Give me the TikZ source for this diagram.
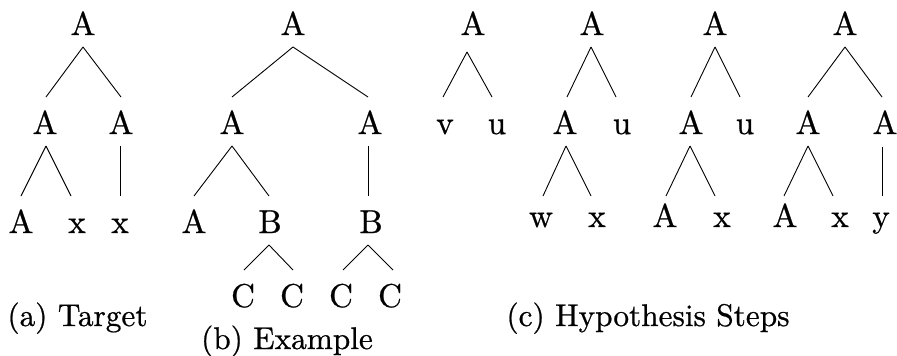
\documentclass[tikz,border=0pt]{standalone}
\usepackage{fontspec}
\newfontfamily\treefont{lmroman10-regular.otf}[FakeBold=0.7]
\begin{document}
\begin{tikzpicture}[x=1pt,y=-1pt,
  lab/.style={anchor=base,inner sep=0pt,font=\treefont\fontsize{33}{38}\selectfont},
  captext/.style={anchor=base,inner sep=0pt,font=\treefont\fontsize{31.3}{38}\selectfont},
  treeline/.style={line width=0.9pt}]
\useasboundingbox (0,0) rectangle (897,356);
% (a) Target
\node[lab] (a0) at (83,35) {A};
\node[lab] (a1) at (45,134) {A};
\node[lab] (a2) at (121,134) {A};
\node[lab] (a3) at (21,233) {A};
\node[lab] (a4) at (77,233) {x};
\node[lab] (a5) at (120,233) {x};
\draw[treeline] ([yshift=-12pt]a0.base) -- ([xshift=1pt,yshift=37pt]a1.base);
\draw[treeline] ([yshift=-12pt]a0.base) -- ([yshift=37pt]a2.base);
\draw[treeline] ([xshift=1pt,yshift=-12pt]a1.base) -- ([yshift=37pt]a3.base);
\draw[treeline] ([xshift=1pt,yshift=-12pt]a1.base) -- ([xshift=-6pt,yshift=37pt]a4.base);
\draw[treeline] ([xshift=-1pt,yshift=-12pt]a2.base) -- ([yshift=37pt]a5.base);
\node[captext] (la) at (77.5,326) {(a) Target};
% (b) Example
\node[lab] (b0) at (293,35) {A};
\node[lab] (b1) at (232,134) {A};
\node[lab] (b2) at (370,134) {A};
\node[lab] (b3) at (194,233) {A};
\node[lab] (b4) at (270,233) {B};
\node[lab] (b5) at (371,233) {B};
\node[lab] (b6) at (243,307) {C};
\node[lab] (b7) at (292,307) {C};
\node[lab] (b8) at (341,307) {C};
\node[lab] (b9) at (390,307) {C};
\draw[treeline] ([yshift=-12pt]b0.base) -- ([yshift=37pt]b1.base);
\draw[treeline] ([yshift=-12pt]b0.base) -- ([xshift=-2pt,yshift=37pt]b2.base);
\draw[treeline] ([yshift=-12pt]b1.base) -- ([yshift=37pt]b3.base);
\draw[treeline] ([yshift=-12pt]b1.base) -- ([xshift=-1pt,yshift=37pt]b4.base);
\draw[treeline] ([xshift=-2pt,yshift=-12pt]b2.base) -- ([xshift=-3pt,yshift=37pt]b5.base);
\draw[treeline] ([xshift=-1pt,yshift=-12pt]b4.base) -- ([xshift=1pt,yshift=37pt]b6.base);
\draw[treeline] ([xshift=-1pt,yshift=-12pt]b4.base) -- ([xshift=1pt,yshift=37pt]b7.base);
\draw[treeline] ([xshift=-3pt,yshift=-12pt]b5.base) -- ([xshift=2pt,yshift=37pt]b8.base);
\draw[treeline] ([xshift=-3pt,yshift=-12pt]b5.base) -- ([xshift=3pt,yshift=37pt]b9.base);
\node[captext] (lb) at (287,349) {(b) Example};
% (c) step 1
\node[lab] (c10) at (473,35) {A};
\node[lab] (c11) at (445,134) {v};
\node[lab] (c12) at (497,134) {u};
\draw[treeline] ([xshift=-6pt,yshift=-17pt]c10.base) -- ([xshift=-2pt,yshift=37pt]c11.base);
\draw[treeline] ([xshift=-6pt,yshift=-17pt]c10.base) -- ([xshift=-5pt,yshift=37pt]c12.base);
% (c) step 2
\node[lab] (c20) at (592,35) {A};
\node[lab] (c21) at (565,134) {A};
\node[lab] (c22) at (622,134) {u};
\node[lab] (c23) at (541,227) {w};
\node[lab] (c24) at (597,227) {x};
\draw[treeline] ([xshift=-1pt,yshift=-12pt]c20.base) -- ([xshift=2pt,yshift=37pt]c21.base);
\draw[treeline] ([xshift=-1pt,yshift=-12pt]c20.base) -- ([xshift=-6pt,yshift=37pt]c22.base);
\draw[treeline] ([xshift=1pt,yshift=-12pt]c21.base) -- ([xshift=2pt,yshift=31pt]c23.base);
\draw[treeline] ([xshift=1pt,yshift=-12pt]c21.base) -- ([xshift=-6pt,yshift=31pt]c24.base);
% (c) step 3
\node[lab] (c30) at (715,35) {A};
\node[lab] (c31) at (691,134) {A};
\node[lab] (c32) at (745,134) {u};
\node[lab] (c33) at (665,227) {A};
\node[lab] (c34) at (722,227) {x};
\draw[treeline] ([yshift=-12pt]c30.base) -- ([yshift=37pt]c31.base);
\draw[treeline] ([yshift=-12pt]c30.base) -- ([xshift=-5pt,yshift=37pt]c32.base);
\draw[treeline] ([xshift=-1pt,yshift=-12pt]c31.base) -- ([xshift=1pt,yshift=31pt]c33.base);
\draw[treeline] ([xshift=-1pt,yshift=-12pt]c31.base) -- ([xshift=-7pt,yshift=31pt]c34.base);
% (c) step 4
\node[lab] (c40) at (845,35) {A};
\node[lab] (c41) at (808,134) {A};
\node[lab] (c42) at (885,134) {A};
\node[lab] (c43) at (785,227) {A};
\node[lab] (c44) at (840,227) {x};
\node[lab] (c45) at (881,227) {y};
\draw[treeline] ([yshift=-12pt]c40.base) -- ([yshift=37pt]c41.base);
\draw[treeline] ([yshift=-12pt]c40.base) -- ([xshift=-3pt,yshift=37pt]c42.base);
\draw[treeline] ([yshift=-12pt]c41.base) -- ([xshift=-1pt,yshift=31pt]c43.base);
\draw[treeline] ([yshift=-12pt]c41.base) -- ([xshift=-7pt,yshift=31pt]c44.base);
\draw[treeline] ([xshift=-3pt,yshift=-13pt]c42.base) -- ([xshift=1pt,yshift=31pt]c45.base);
\node[captext] (lc) at (648,326) {(c) Hypothesis Steps};
\end{tikzpicture}
\end{document}
